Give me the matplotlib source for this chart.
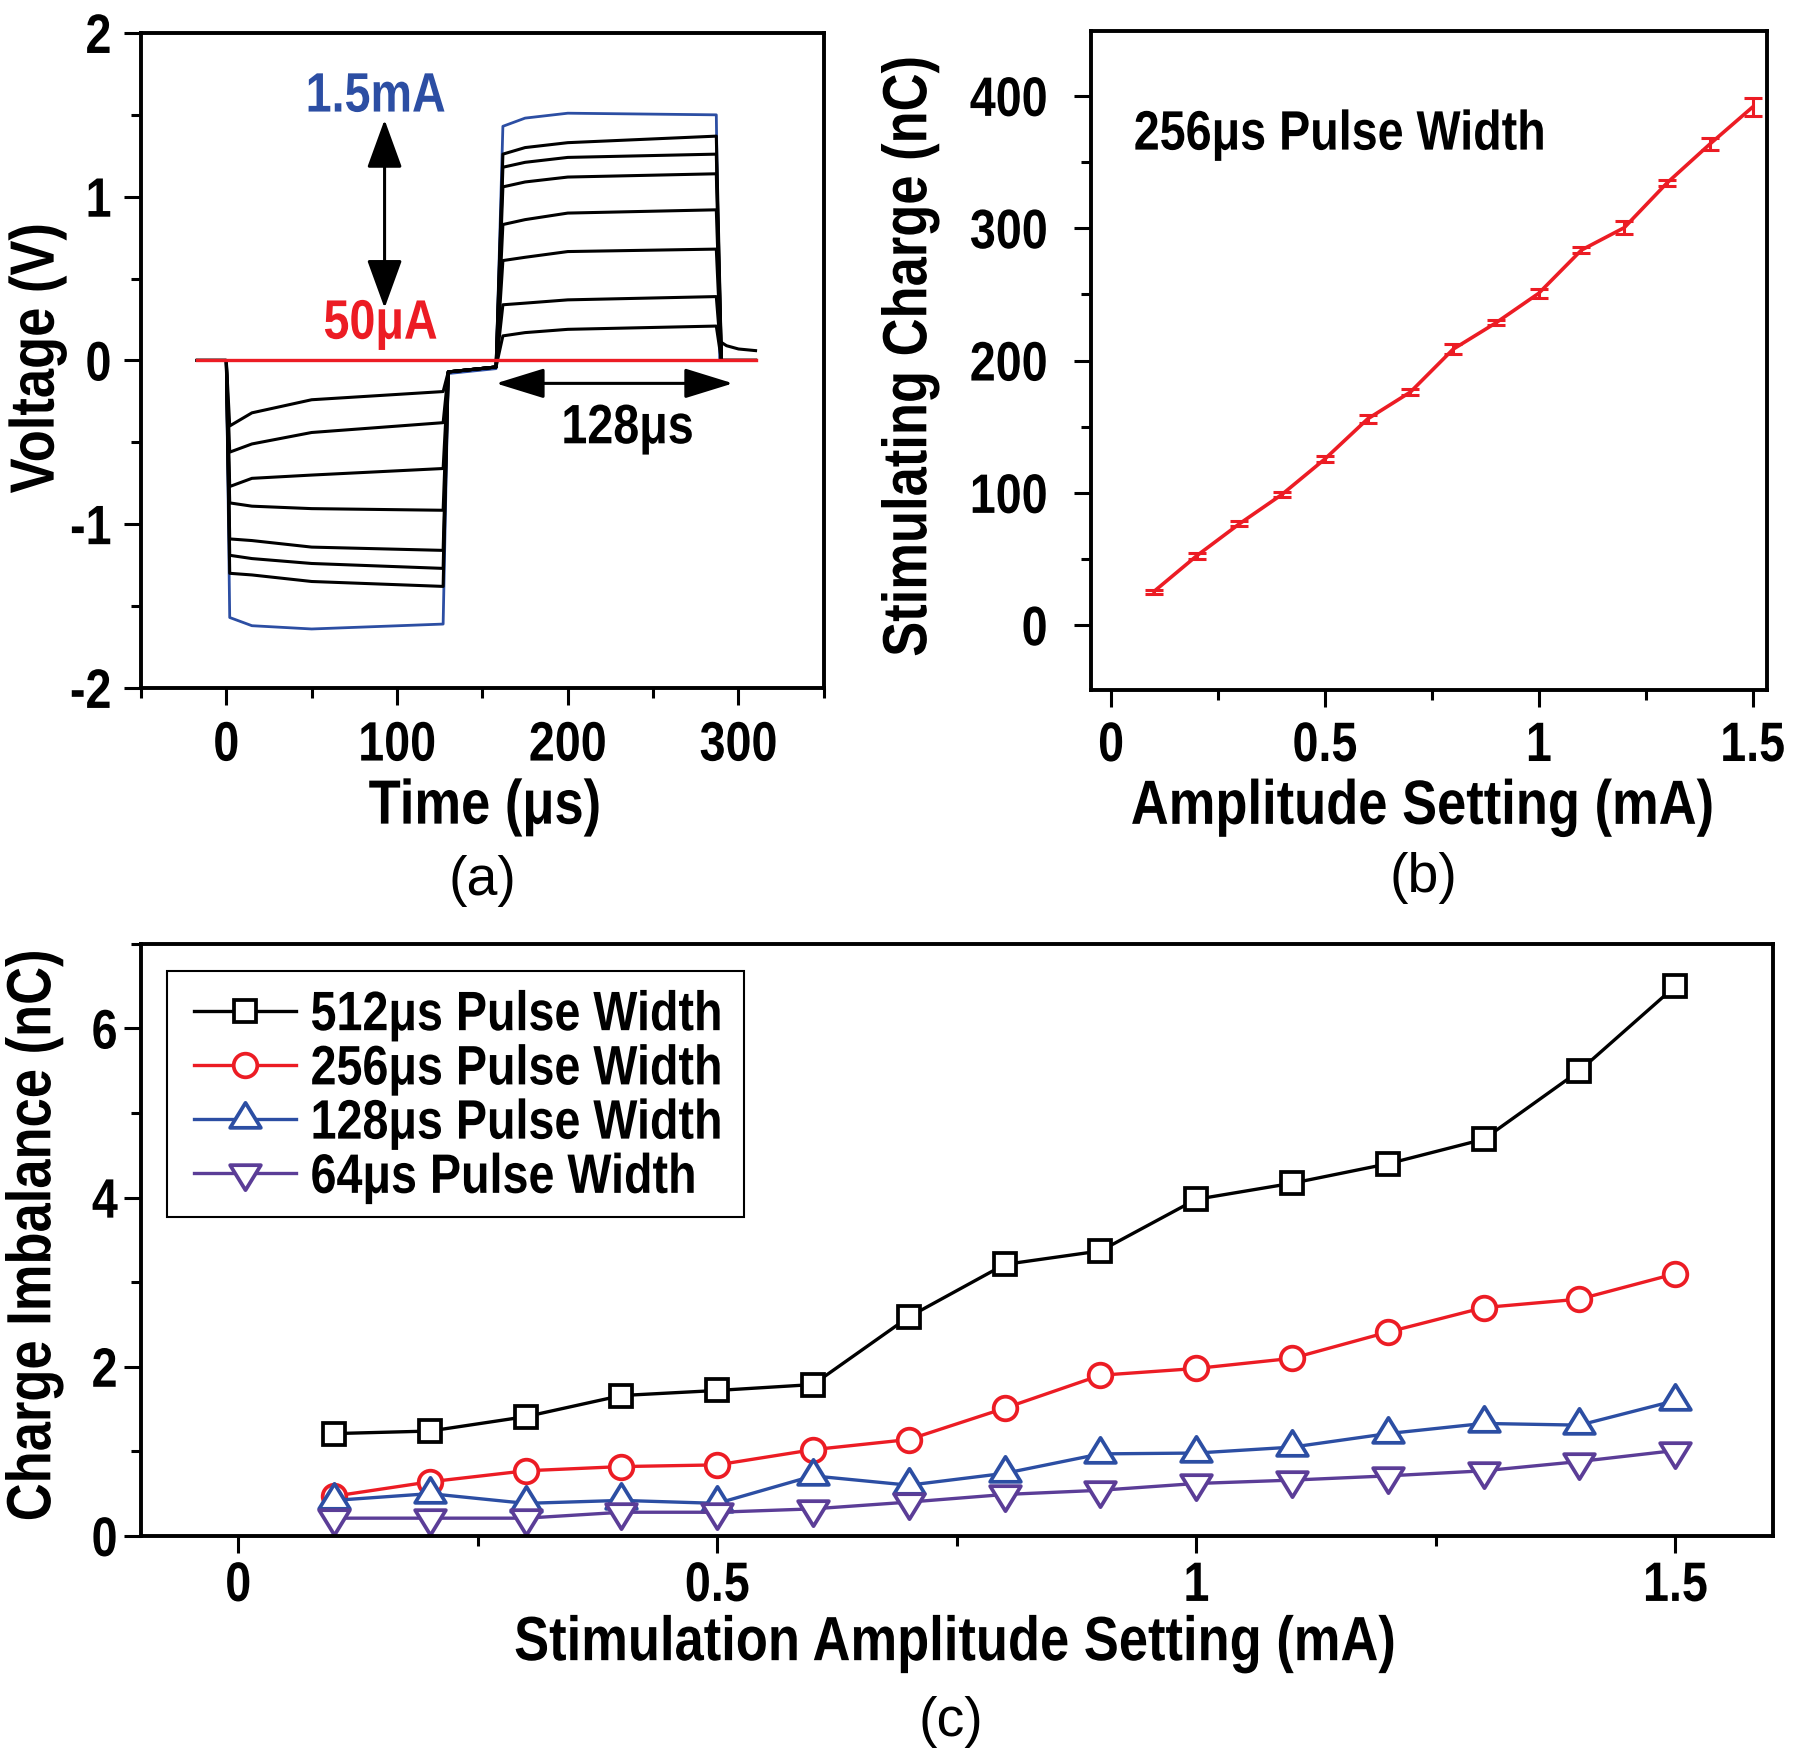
import matplotlib
matplotlib.use('Agg')
import matplotlib.pyplot as plt
from matplotlib.ticker import MultipleLocator, FixedLocator
from matplotlib.path import Path
from matplotlib.patches import Rectangle
from matplotlib.patheffects import AbstractPathEffect
from matplotlib.transforms import Affine2D

plt.rcParams['font.family'] = ['Liberation Sans', 'DejaVu Sans']
plt.rcParams['font.weight'] = 'bold'
plt.rcParams['axes.labelweight'] = 'bold'
plt.rcParams['axes.unicode_minus'] = False

RED = '#ec1c24'
BLUE = '#2c4ea3'
PURPLE = '#5b3d97'

# ---------------- (a) voltage traces ----------------
# cathodic phase levels (V) read at these times (us), smallest step first
neg_t = [2, 15, 50, 127]
neg_v = [[-0.40, -0.32, -0.24, -0.19],
         [-0.56, -0.51, -0.44, -0.38],
         [-0.77, -0.72, -0.70, -0.66],
         [-0.87, -0.89, -0.905, -0.915],
         [-1.09, -1.10, -1.14, -1.16],
         [-1.19, -1.21, -1.24, -1.27],
         [-1.30, -1.31, -1.35, -1.38]]
# anodic phase levels (V)
pos_t = [162, 175, 200, 287]
pos_v = [[0.15, 0.17, 0.19, 0.21],
         [0.34, 0.35, 0.37, 0.39],
         [0.61, 0.63, 0.665, 0.68],
         [0.83, 0.86, 0.90, 0.92],
         [1.06, 1.09, 1.12, 1.14],
         [1.18, 1.21, 1.24, 1.26],
         [1.26, 1.30, 1.33, 1.37]]
# 1.5 mA trace
blue_neg = [-1.57, -1.62, -1.64, -1.61]
blue_pos = [1.43, 1.48, 1.51, 1.50]
# interphase gap level (V) at 130 / 158 us
gap_t = [130, 158]
gap_v = [-0.07, -0.04]
blue_gap = [-0.08, -0.05]
# settling tail after the anodic phase
tail_t = [290, 293, 300, 310]
tail_v = [0.11, 0.09, 0.07, 0.06]
# 50 uA trace
red_t = [-17, 310]
red_v = [0, 0]

# ---------------- (b) charge vs amplitude ----------------
amp = [0.1, 0.2, 0.3, 0.4, 0.5, 0.6, 0.7, 0.8, 0.9, 1.0, 1.1, 1.2, 1.3, 1.4, 1.5]
charge = [25.4, 52.4, 76.6, 98.9, 125.6, 155.9, 176.2, 208.6, 228.5, 250.8,
          283.5, 300.4, 334.2, 363.5, 391.5]
charge_err = [1.5, 2, 2, 2, 2.5, 3, 2.5, 3.8, 2, 3.5, 2.5, 4.7, 2, 4.5, 7]

# ---------------- (c) charge imbalance ----------------
imb_512 = [1.21, 1.24, 1.41, 1.66, 1.72, 1.79, 2.59, 3.21, 3.37, 3.98, 4.17, 4.40, 4.69, 5.50, 6.50]
imb_256 = [0.47, 0.64, 0.77, 0.82, 0.84, 1.02, 1.14, 1.51, 1.90, 1.98, 2.10, 2.41, 2.70, 2.80, 3.10]
imb_128 = [0.42, 0.50, 0.385, 0.42, 0.385, 0.71, 0.60, 0.74, 0.97, 0.98, 1.05, 1.21, 1.33, 1.31, 1.60]
imb_64 = [0.21, 0.21, 0.21, 0.28, 0.28, 0.32, 0.40, 0.49, 0.54, 0.62, 0.66, 0.71, 0.77, 0.88, 1.01]
labels_c = ['512μs Pulse Width', '256μs Pulse Width', '128μs Pulse Width', '64μs Pulse Width']

amp_ticks = [0, 0.5, 1, 1.5]
amp_ticklabels = ['0', '0.5', '1', '1.5']

# triangles centred on their centroid, like the original plotting program
tri_up = Path([(0, 0.667), (-0.615, -0.333), (0.615, -0.333), (0, 0.667)], closed=True)
tri_dn = Path([(0, -0.667), (-0.615, 0.333), (0.615, 0.333), (0, -0.667)], closed=True)


class Narrow(AbstractPathEffect):
    """squeeze glyphs along the baseline to look like Arial Narrow"""

    def __init__(self, anchor='center', sx=0.84):
        super().__init__()
        self.anchor = anchor
        self.sx = sx

    def draw_path(self, renderer, gc, tpath, affine, rgbFace=None):
        ext = tpath.get_extents()
        cx = {'left': 0.0, 'right': ext.x1, 'center': 0.5 * (ext.x0 + ext.x1)}[self.anchor]
        sq = Affine2D().translate(-cx, 0).scale(self.sx, 1).translate(cx, 0)
        renderer.draw_path(gc, tpath, sq + affine, rgbFace)


def style(ax, xpad, ypad):
    for s in ax.spines.values():
        s.set_linewidth(2.8)
    ax.tick_params(which='both', direction='out', width=2.2, top=False, right=False,
                   labelsize=40)
    ax.tick_params(which='major', length=12)
    ax.tick_params(which='minor', length=7)
    ax.tick_params(axis='x', pad=xpad)
    ax.tick_params(axis='y', pad=ypad)


fig = plt.figure(figsize=(18, 17.63), dpi=100)
ax_a = fig.add_axes([0.0783, 0.6098, 0.3794, 0.3715])
ax_b = fig.add_axes([0.6061, 0.6086, 0.3756, 0.3738])
ax_c = fig.add_axes([0.0786, 0.1288, 0.9064, 0.3358])

# ---- panel a
bt = [-17, 0] + neg_t + gap_t + pos_t + [289, 310]
ax_a.plot(bt, [0, 0] + blue_neg + blue_gap + blue_pos + [0, 0], color=BLUE, lw=2.0)
for nv, pv in zip(neg_v, pos_v):
    t = [-17, 0] + neg_t + gap_t + pos_t + [290, 310]
    v = [0, 0] + nv + gap_v + pv + [0, 0]
    ax_a.plot(t, v, color='k', lw=2.2)
ax_a.plot(tail_t, tail_v, color='k', lw=2.2)
ax_a.plot(red_t, red_v, color=RED, lw=2.4)

ax_a.annotate('', xy=(92.7, 1.47), xytext=(92.7, 0.32),
              arrowprops=dict(arrowstyle='<|-|>,head_length=0.55,head_width=0.2',
                              color='k', lw=2.2, mutation_scale=55, shrinkA=0, shrinkB=0))
ax_a.annotate('', xy=(296.8, -0.14), xytext=(157.9, -0.14),
              arrowprops=dict(arrowstyle='<|-|>,head_length=0.55,head_width=0.17',
                              color='k', lw=2.2, mutation_scale=55, shrinkA=0, shrinkB=0))
ax_a.text(87.4, 1.52, '1.5mA', color=BLUE, fontsize=40, ha='center', va='baseline',
          path_effects=[Narrow()])
ax_a.text(90.3, 0.133, '50μA', color=RED, fontsize=40, ha='center', va='baseline',
          path_effects=[Narrow()])
ax_a.text(234.9, -0.506, '128μs', color='k', fontsize=40, ha='center', va='baseline',
          path_effects=[Narrow()])

ax_a.set_xlim(-50, 350)
ax_a.set_ylim(-2, 2)
ax_a.xaxis.set_major_locator(FixedLocator([0, 100, 200, 300]))
ax_a.xaxis.set_minor_locator(MultipleLocator(50))
ax_a.yaxis.set_major_locator(MultipleLocator(1))
ax_a.yaxis.set_minor_locator(MultipleLocator(0.5))
style(ax_a, 11.5, 9)
ax_a.set_xlabel('Time (μs)', fontsize=45)
ax_a.set_ylabel('Voltage (V)', fontsize=45)
ax_a.xaxis.set_label_coords(0.504, -0.182)
ax_a.yaxis.set_label_coords(-0.152, 0.504)

# ---- panel b
ax_b.errorbar(amp, charge, yerr=charge_err, color=RED, lw=2.6, capsize=6.5,
              capthick=2.2, elinewidth=2.2)
ax_b.text(0.053, 359.4, '256μs Pulse Width', fontsize=40, ha='left', va='baseline',
          path_effects=[Narrow('left')])
ax_b.set_xlim(-0.047, 1.534)
ax_b.set_ylim(-49, 449)
ax_b.set_xticks(amp_ticks)
ax_b.set_xticklabels(amp_ticklabels)
ax_b.xaxis.set_minor_locator(MultipleLocator(0.25))
ax_b.yaxis.set_major_locator(MultipleLocator(100))
ax_b.yaxis.set_minor_locator(MultipleLocator(50))
style(ax_b, 10.3, 19)
ax_b.set_xlabel('Amplitude Setting (mA)', fontsize=45)
ax_b.set_ylabel('Stimulating Charge (nC)', fontsize=45)
ax_b.xaxis.set_label_coords(0.491, -0.178)
ax_b.yaxis.set_label_coords(-0.268, 0.507)

# ---- panel c
mk = dict(markerfacecolor='white', markeredgewidth=2.7, lw=2.4)
ax_c.plot(amp, imb_512, color='k', marker='s', markersize=16.5, label=labels_c[0], **mk)
ax_c.plot(amp, imb_256, color=RED, marker='o', markersize=17, label=labels_c[1], **mk)
ax_c.plot(amp, imb_128, color=BLUE, marker=tri_up, markersize=24, label=labels_c[2], **mk)
ax_c.plot(amp, imb_64, color=PURPLE, marker=tri_dn, markersize=24, label=labels_c[3], **mk)
leg = ax_c.legend(loc='upper left', bbox_to_anchor=(0.0219, 0.950), borderaxespad=0,
                  fontsize=40, frameon=False, handlelength=1.83, handletextpad=0.27,
                  labelspacing=0.04, borderpad=0.3)
ax_c.add_patch(Rectangle((0.0154, 0.5389), 0.3539, 0.4148, transform=ax_c.transAxes,
                         fill=False, edgecolor='k', lw=1.5, zorder=5))
ax_c.set_xlim(-0.101, 1.602)
ax_c.set_ylim(0, 7)
ax_c.set_xticks(amp_ticks)
ax_c.set_xticklabels(amp_ticklabels)
ax_c.xaxis.set_minor_locator(MultipleLocator(0.25))
ax_c.yaxis.set_major_locator(MultipleLocator(2))
ax_c.yaxis.set_minor_locator(MultipleLocator(1))
style(ax_c, 6, 5)
ax_c.set_xlabel('Stimulation Amplitude Setting (mA)', fontsize=45)
ax_c.set_ylabel('Charge Imbalance (nC)', fontsize=45)
ax_c.xaxis.set_label_coords(0.499, -0.182)
ax_c.yaxis.set_label_coords(-0.066, 0.508)

for ax in (ax_a, ax_b, ax_c):
    ax.xaxis.label.set_va('center')
    ax.yaxis.label.set_va('center')

# panel letters
for x, y, s in [(0.268, 0.5003, '(a)'), (0.7906, 0.502, '(b)'), (0.528, 0.0233, '(c)')]:
    fig.text(x, y, s, fontsize=40, fontweight='normal', ha='center', va='center')

# narrow look for the bold texts
fig.canvas.draw()
for ax in (ax_a, ax_b, ax_c):
    for lbl in ax.get_xticklabels():
        lbl.set_path_effects([Narrow('center')])
    for lbl in ax.get_yticklabels():
        lbl.set_path_effects([Narrow('right')])
    ax.xaxis.label.set_path_effects([Narrow('center')])
    ax.yaxis.label.set_path_effects([Narrow('center')])
for txt in leg.get_texts():
    txt.set_path_effects([Narrow('left')])

fig.savefig('out.png', dpi=100)
